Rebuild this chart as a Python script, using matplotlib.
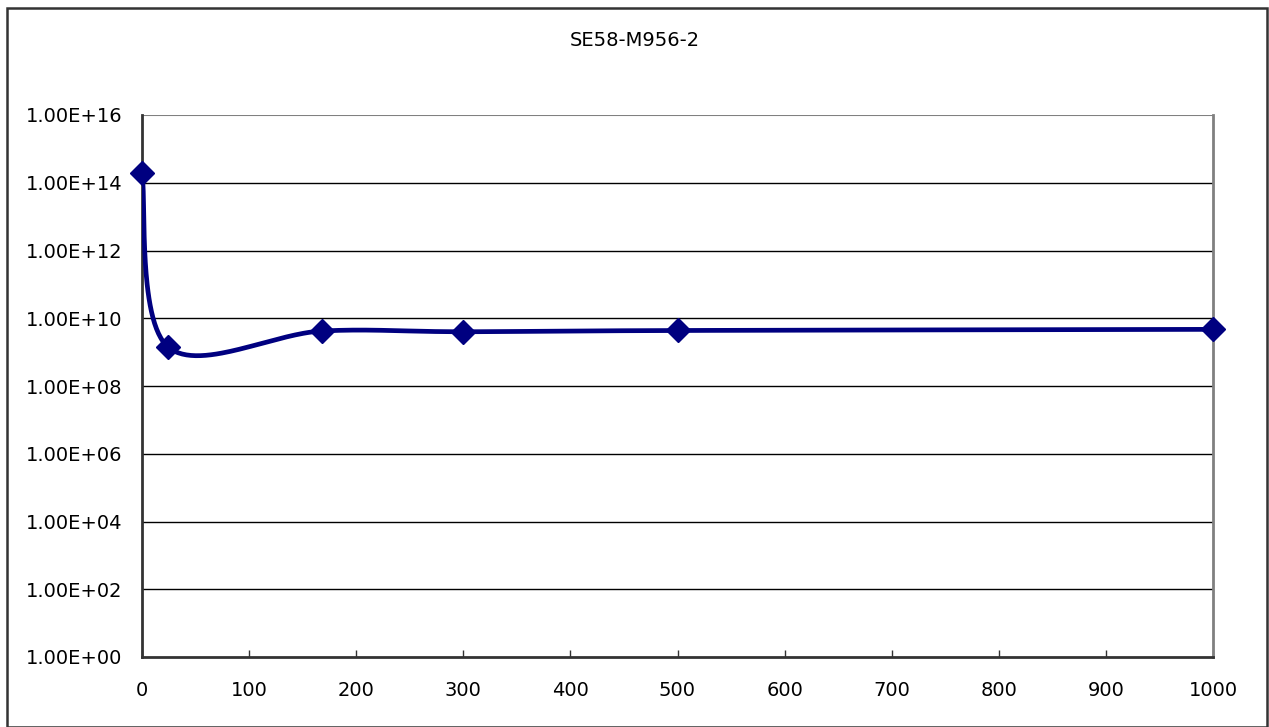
import numpy as np
import matplotlib
matplotlib.use("Agg")
from matplotlib import pyplot as plt
from matplotlib.patches import Rectangle

# data
hours = [0, 24, 168, 300, 500, 1000]
values = [2.0e14, 1.45e9, 4.2e9, 4.0e9, 4.35e9, 4.7e9]
ytick_vals = [1e0, 1e2, 1e4, 1e6, 1e8, 1e10, 1e12, 1e14, 1e16]
ytick_labels = ['1.00E+00', '1.00E+02', '1.00E+04', '1.00E+06', '1.00E+08',
                '1.00E+10', '1.00E+12', '1.00E+14', '1.00E+16']
xtick_vals = list(range(0, 1001, 100))
title = 'SE58-M956-2'

W, H = 1269, 727
fig = plt.figure(figsize=(W / 100, H / 100), dpi=100)
ax = fig.add_axes([142 / W, 1 - 657 / H, (1213 - 142) / W, (657 - 115) / H])

# Excel style smoothed line (Catmull-Rom bezier in screen space)
aw, ah = 1213 - 142, 657 - 115
u = np.array(hours) / 1000 * aw
v = np.log10(values) / 16 * ah
pts = np.column_stack([u, v])
n = len(pts)
cu, cv = [], []
t = np.linspace(0, 1, 60)[:, None]
for i in range(n - 1):
    p0 = pts[max(i - 1, 0)]
    p1 = pts[i]
    p2 = pts[i + 1]
    p3 = pts[min(i + 2, n - 1)]
    c1 = p1 + (p2 - p0) / 6
    c2 = p2 - (p3 - p1) / 6
    b = ((1 - t) ** 3) * p1 + 3 * ((1 - t) ** 2) * t * c1 + 3 * (1 - t) * t ** 2 * c2 + t ** 3 * p2
    cu.append(b[:, 0])
    cv.append(b[:, 1])
cu = np.concatenate(cu)
cv = np.concatenate(cv)
ax.plot(cu / aw * 1000, 10 ** (cv / ah * 16), color='#000080', lw=3.4, zorder=3,
        solid_capstyle='round')
ax.plot(hours, values, ls='none', marker='D', ms=12, color='#000080',
        zorder=4, clip_on=False)

ax.set_yscale('log')
ax.set_xlim(0, 1000)
ax.set_ylim(1e0, 1e16)
ax.set_yticks(ytick_vals)
ax.set_yticklabels(ytick_labels)
ax.minorticks_off()
ax.set_xticks(xtick_vals)
ax.set_xticklabels([str(x) for x in xtick_vals])
ax.tick_params(axis='y', length=0, pad=14, labelsize=14)
ax.tick_params(axis='x', direction='in', length=5, width=1, color='#333333',
               pad=17, labelsize=14)

for yv in ytick_vals[1:-1]:
    ax.axhline(yv, color='black', lw=1, zorder=1)
ax.axhline(1e16, color='#808080', lw=1.5, zorder=1)

ax.spines['left'].set_color('#333333')
ax.spines['left'].set_linewidth(2)
ax.spines['bottom'].set_color('#333333')
ax.spines['bottom'].set_linewidth(2)
ax.spines['right'].set_color('#808080')
ax.spines['right'].set_linewidth(2)
ax.spines['top'].set_visible(False)

fig.text(0.5, 1 - 40 / H, title, ha='center', va='center', fontsize=14)

# outer chart border
fig.patches.append(Rectangle((7 / W, 0), (1267 - 7) / W, 1 - 8 / H,
                             transform=fig.transFigure, fill=False,
                             edgecolor='#333333', lw=1.8))

plt.savefig('out.png', dpi=100)
